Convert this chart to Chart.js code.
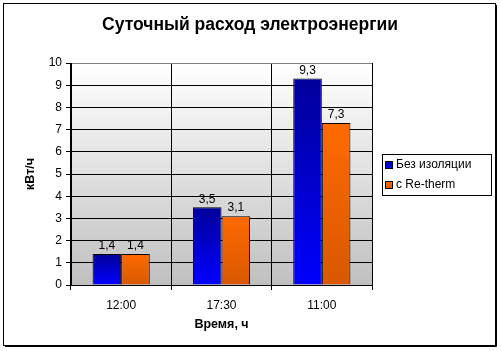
<!DOCTYPE html>
<html>
<head>
<meta charset="utf-8">
<script src="https://cdn.jsdelivr.net/npm/chart.js@4"></script>
<style>
  body { margin: 0; background: #fff; }
  #wrap { width: 501px; height: 351px; }
</style>
</head>
<body>
<div id="wrap"><canvas id="grafik" width="501" height="351"></canvas></div>
<script>
// данные графика
const kategorii = ['12:00', '17:30', '11:00'];
const bezIzolyacii = [1.4, 3.5, 9.3];
const sReTherm = [1.4, 3.1, 7.3];
const nazvaniyaSeriy = ['Без изоляции', 'с Re-therm'];
const zagolovok = 'Суточный расход электроэнергии';
const yMin = 0, yMax = 10, yShag = 1;

const SHRIFT = "'Liberation Sans', Arial, sans-serif";

// градиент для каждого столбца отдельно
function gradientStolbca(ctx, verh, niz) {
    const chart = ctx.chart;
    if (!chart.chartArea || ctx.raw === undefined) return niz;
    const y = chart.scales.y;
    const top = y.getPixelForValue(ctx.raw);
    const bottom = y.getPixelForValue(0);
    if (!isFinite(top) || top === bottom) return niz;
    const g = chart.ctx.createLinearGradient(0, top, 0, bottom);
    g.addColorStop(0, verh);
    g.addColorStop(1, niz);
    return g;
}

// фон области построения, рамка, заголовок, подписи, легенда
const oformlenie = {
    id: 'oformlenie',
    beforeDraw(chart) {
        const c = chart.ctx;
        const a = chart.chartArea;
        c.save();
        c.fillStyle = '#fff';
        c.fillRect(0, 0, chart.width, chart.height);
        const g = c.createLinearGradient(0, a.top, 0, a.bottom);
        g.addColorStop(0, '#ffffff');
        g.addColorStop(1, '#c0c0c0');
        c.fillStyle = g;
        c.fillRect(a.left, a.top, a.right - a.left, a.bottom - a.top);
        c.restore();
    },
    afterDatasetsDraw(chart) {
        const c = chart.ctx;
        c.save();
        c.font = '12px ' + SHRIFT;
        c.fillStyle = '#000';
        c.textAlign = 'center';
        c.textBaseline = 'bottom';
        chart.data.datasets.forEach((ds, i) => {
            chart.getDatasetMeta(i).data.forEach((el, j) => {
                c.fillText(String(ds.data[j]).replace('.', ','), el.x, el.y - 2);
            });
        });
        c.restore();
    },
    afterDraw(chart) {
        const c = chart.ctx;
        c.save();
        // рамка диаграммы
        c.strokeStyle = '#000';
        c.lineWidth = 1;
        c.strokeRect(3.5, 3.5, 492, 342);
        c.beginPath();
        c.moveTo(496.5, 5); c.lineTo(496.5, 346.5); c.lineTo(5, 346.5);
        c.stroke();
        // заголовок
        c.fillStyle = '#000';
        c.font = 'bold 17.5px ' + SHRIFT;
        c.textAlign = 'center';
        c.textBaseline = 'middle';
        c.fillText(zagolovok, 250, 25);
        // легенда
        const lx = 382, ly = 154, lw = 109, lh = 41;
        c.fillStyle = '#fff';
        c.fillRect(lx, ly, lw, lh);
        c.strokeRect(lx + 0.5, ly + 0.5, lw, lh);
        const cveta = [['#0000a0', '#0000ff'], ['#ff6a00', '#d85800']];
        c.font = '12px ' + SHRIFT;
        c.textBaseline = 'middle';
        c.textAlign = 'left';
        nazvaniyaSeriy.forEach((n, i) => {
            const yy = ly + 11 + i * 20;
            const g = c.createLinearGradient(0, yy - 4, 0, yy + 4);
            g.addColorStop(0, cveta[i][0]);
            g.addColorStop(1, cveta[i][1]);
            c.fillStyle = g;
            c.fillRect(lx + 3, yy - 4, 8, 8);
            c.strokeRect(lx + 3.5, yy - 3.5, 7, 7);
            c.fillStyle = '#000';
            c.fillText(n, lx + 14, yy);
        });
        c.restore();
    }
};

new Chart(document.getElementById('grafik'), {
    type: 'bar',
    data: {
        labels: kategorii,
        datasets: [
            {
                label: nazvaniyaSeriy[0],
                data: bezIzolyacii,
                backgroundColor: ctx => gradientStolbca(ctx, '#00009a', '#0000ff'),
                borderColor: '#000',
                borderWidth: 1
            },
            {
                label: nazvaniyaSeriy[1],
                data: sReTherm,
                backgroundColor: ctx => gradientStolbca(ctx, '#ff6a00', '#d85800'),
                borderColor: '#000',
                borderWidth: 1
            }
        ]
    },
    options: {
        responsive: false,
        animation: false,
        devicePixelRatio: 1,
        layout: { padding: { left: 0, top: 63, right: 129, bottom: 0 } },
        datasets: { bar: { categoryPercentage: 0.57, barPercentage: 1 } },
        plugins: {
            legend: { display: false },
            tooltip: { enabled: false },
            title: { display: false }
        },
        scales: {
            x: {
                afterFit: s => { s.height = 66; },
                grid: {
                    offset: true,
                    color: ctx => ctx.index === kategorii.length ? '#808080' : '#000',
                    tickColor: '#000',
                    tickLength: 5
                },
                border: { color: '#000' },
                ticks: { color: '#000', padding: 8, font: { family: SHRIFT, size: 12 } },
                title: {
                    display: true,
                    text: 'Время, ч',
                    color: '#000',
                    font: { family: SHRIFT, size: 12.5, weight: 'bold' },
                    padding: { top: 19, bottom: 19 }
                }
            },
            y: {
                min: yMin,
                max: yMax,
                afterFit: s => { s.width = 71; },
                grid: {
                    color: ctx => ctx.tick && ctx.tick.value === yMax ? '#808080' : '#000',
                    tickColor: '#000',
                    tickLength: 5
                },
                border: { color: '#000' },
                ticks: {
                    stepSize: yShag,
                    color: '#000',
                    padding: 4,
                    font: { family: SHRIFT, size: 12 }
                },
                title: {
                    display: true,
                    text: 'кВт/ч',
                    color: '#000',
                    font: { family: SHRIFT, size: 12.5, weight: 'bold' },
                    padding: { top: 23, bottom: 23 }
                }
            }
        }
    },
    plugins: [oformlenie]
});
</script>
</body>
</html>
